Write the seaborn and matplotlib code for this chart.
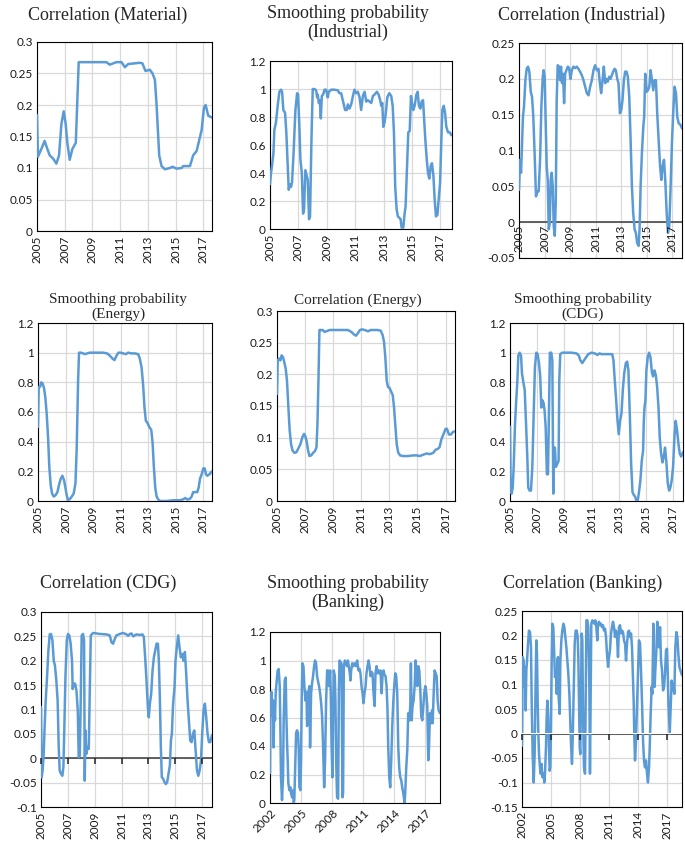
import numpy as np
import matplotlib
matplotlib.use("Agg")
import matplotlib.pyplot as plt
import seaborn as sns
from matplotlib.ticker import MultipleLocator, FuncFormatter

sns.set_theme(style="white")
plt.rcParams['font.family'] = ['Lato', 'DejaVu Sans']
plt.rcParams['xtick.bottom'] = True

BLUE = '#5b9bd5'
W, H = 685, 844

# ---- data (decimal years / values) ----
mat_x = [2005.00, 2005.07, 2005.31, 2005.55, 2005.75, 2005.92, 2006.16, 2006.40, 2006.59, 2006.76,
         2006.93, 2007.07, 2007.19, 2007.36, 2007.55, 2007.80, 2008.01, 2010.01, 2010.25, 2010.73,
         2011.10, 2011.34, 2011.58, 2012.42, 2012.61, 2012.83, 2013.14, 2013.34, 2013.51, 2013.63,
         2013.82, 2013.99, 2014.23, 2014.59, 2014.78, 2015.07, 2015.43, 2015.55, 2016.04, 2016.27,
         2016.52, 2016.88, 2017.05, 2017.17, 2017.36, 2017.63]
mat_y = [0.184, 0.118, 0.13, 0.143, 0.13, 0.12, 0.115, 0.107, 0.12, 0.17,
         0.19, 0.17, 0.14, 0.113, 0.13, 0.14, 0.268, 0.268, 0.264, 0.268,
         0.268, 0.26, 0.265, 0.267, 0.266, 0.254, 0.256, 0.25, 0.24, 0.2,
         0.12, 0.103, 0.098, 0.1, 0.102, 0.099, 0.1, 0.103, 0.103, 0.12,
         0.127, 0.16, 0.196, 0.2, 0.183, 0.18]

ind_sp_x = [2005.00, 2005.07, 2005.14, 2005.24, 2005.31, 2005.42, 2005.54, 2005.66, 2005.78, 2005.85,
            2005.94, 2006.06, 2006.15, 2006.25, 2006.32, 2006.41, 2006.48, 2006.55, 2006.65, 2006.79,
            2006.91, 2006.98, 2007.07, 2007.14, 2007.24, 2007.33, 2007.40, 2007.49, 2007.59, 2007.66,
            2007.75, 2007.82, 2007.92, 2008.01, 2008.13, 2008.25, 2008.32, 2008.36, 2008.44, 2008.51,
            2008.58, 2008.65, 2008.74, 2008.84, 2008.95, 2009.07, 2009.14, 2009.31, 2009.54, 2009.78,
            2009.89, 2010.01, 2010.13, 2010.29, 2010.41, 2010.48, 2010.60, 2010.72, 2010.84, 2010.95,
            2011.07, 2011.19, 2011.31, 2011.42, 2011.54, 2011.66, 2011.78, 2011.89, 2012.01, 2012.13,
            2012.25, 2012.36, 2012.53, 2012.65, 2012.76, 2012.84, 2012.91, 2012.98, 2013.07, 2013.16,
            2013.26, 2013.40, 2013.54, 2013.64, 2013.73, 2013.82, 2013.92, 2014.01, 2014.11, 2014.20,
            2014.27, 2014.39, 2014.48, 2014.55, 2014.65, 2014.74, 2014.84, 2014.93, 2015.00, 2015.09,
            2015.19, 2015.31, 2015.40, 2015.49, 2015.59, 2015.68, 2015.78, 2015.85, 2015.94, 2016.04,
            2016.13, 2016.22, 2016.32, 2016.41, 2016.51, 2016.60, 2016.69, 2016.79, 2016.88, 2016.98,
            2017.07, 2017.14, 2017.24, 2017.33, 2017.42, 2017.54, 2017.66, 2017.78]
ind_sp_y = [0.32, 0.40, 0.45, 0.54, 0.71, 0.76, 0.88, 0.98, 0.995, 0.98,
            0.85, 0.83, 0.69, 0.45, 0.28, 0.32, 0.30, 0.33, 0.52, 0.85,
            0.97, 0.96, 0.73, 0.50, 0.40, 0.11, 0.14, 0.42, 0.38, 0.35,
            0.07, 0.09, 0.64, 1.0, 1.0, 0.99, 0.94, 0.96, 0.90, 0.92,
            0.79, 0.95, 0.96, 0.995, 0.995, 0.94, 0.98, 0.995, 0.995, 0.99,
            0.97, 0.97, 0.92, 0.85, 0.85, 0.89, 0.86, 0.89, 0.95, 0.995,
            0.97, 0.98, 0.94, 0.85, 0.95, 0.98, 0.91, 0.92, 0.91, 0.90,
            0.95, 0.96, 0.98, 0.96, 0.92, 0.88, 0.90, 0.73, 0.76, 0.83,
            0.94, 0.97, 0.95, 0.88, 0.69, 0.30, 0.14, 0.09, 0.08, 0.07,
            0.01, 0.01, 0.11, 0.16, 0.45, 0.69, 0.70, 0.95, 0.90, 0.85,
            0.88, 0.96, 0.98, 0.88, 0.86, 0.91, 0.92, 0.80, 0.64, 0.50,
            0.40, 0.36, 0.45, 0.47, 0.38, 0.21, 0.09, 0.10, 0.21, 0.33,
            0.64, 0.85, 0.88, 0.83, 0.73, 0.69, 0.69, 0.67]

ind_c_x = [2005.00, 2005.08, 2005.16, 2005.24, 2005.31, 2005.39, 2005.50, 2005.60, 2005.71, 2005.81,
           2005.92, 2006.02, 2006.12, 2006.23, 2006.33, 2006.44, 2006.54, 2006.65, 2006.75, 2006.86,
           2006.93, 2007.01, 2007.09, 2007.17, 2007.25, 2007.33, 2007.41, 2007.48, 2007.56, 2007.64,
           2007.72, 2007.80, 2007.88, 2007.95, 2008.03, 2008.14, 2008.22, 2008.29, 2008.37, 2008.45,
           2008.53, 2008.61, 2008.71, 2008.82, 2008.92, 2009.03, 2009.13, 2009.26, 2009.39, 2009.52,
           2009.65, 2009.78, 2009.92, 2010.05, 2010.18, 2010.31, 2010.44, 2010.57, 2010.70, 2010.83,
           2010.96, 2011.09, 2011.22, 2011.33, 2011.43, 2011.54, 2011.64, 2011.75, 2011.85, 2011.95,
           2012.06, 2012.16, 2012.27, 2012.37, 2012.48, 2012.58, 2012.69, 2012.79, 2012.90, 2013.00,
           2013.10, 2013.21, 2013.31, 2013.42, 2013.52, 2013.63, 2013.73, 2013.84, 2013.94, 2014.05,
           2014.15, 2014.25, 2014.36, 2014.44, 2014.52, 2014.62, 2014.73, 2014.80, 2014.88, 2014.99,
           2015.09, 2015.20, 2015.30, 2015.41, 2015.51, 2015.61, 2015.72, 2015.82, 2015.93, 2016.03,
           2016.14, 2016.24, 2016.35, 2016.45, 2016.56, 2016.66, 2016.76, 2016.87, 2016.97, 2017.08,
           2017.18, 2017.29, 2017.39, 2017.50, 2017.63, 2017.76]
ind_c_y = [0.045, 0.087, 0.069, 0.11, 0.147, 0.161, 0.198, 0.214, 0.217, 0.21,
           0.182, 0.175, 0.147, 0.092, 0.036, 0.043, 0.043, 0.087, 0.161, 0.203,
           0.212, 0.203, 0.138, 0.078, 0.059, -0.010, -0.001, 0.059, 0.069, 0.05,
           -0.006, -0.019, 0.031, 0.170, 0.219, 0.217, 0.198, 0.217, 0.194, 0.207,
           0.166, 0.207, 0.212, 0.217, 0.215, 0.2, 0.212, 0.217, 0.215, 0.217,
           0.214, 0.21, 0.205, 0.198, 0.189, 0.18, 0.177, 0.189, 0.198, 0.212,
           0.219, 0.212, 0.214, 0.194, 0.18, 0.198, 0.217, 0.194, 0.2, 0.196,
           0.203, 0.2, 0.205, 0.21, 0.214, 0.212, 0.2, 0.194, 0.152, 0.156,
           0.17, 0.198, 0.21, 0.21, 0.203, 0.175, 0.119, 0.05, 0.013, -0.01,
           -0.015, -0.029, -0.033, -0.01, 0.05, 0.096, 0.133, 0.147, 0.207, 0.182,
           0.184, 0.189, 0.212, 0.198, 0.184, 0.198, 0.198, 0.152, 0.115, 0.082,
           0.059, 0.078, 0.087, 0.059, 0.013, -0.015, -0.006, 0.05, 0.11, 0.156,
           0.189, 0.18, 0.147, 0.138, 0.136, 0.131]

en_sp_x = [2005.00, 2005.05, 2005.15, 2005.24, 2005.34, 2005.44, 2005.53, 2005.63, 2005.73, 2005.82,
           2005.92, 2006.02, 2006.14, 2006.28, 2006.41, 2006.53, 2006.65, 2006.77, 2006.89, 2006.99,
           2007.08, 2007.18, 2007.33, 2007.45, 2007.59, 2007.72, 2007.81, 2007.91, 2007.98, 2008.13,
           2008.27, 2008.42, 2008.56, 2008.76, 2009.24, 2009.73, 2010.02, 2010.21, 2010.41, 2010.55,
           2010.70, 2010.84, 2011.01, 2011.18, 2011.38, 2011.55, 2011.79, 2012.03, 2012.27, 2012.39,
           2012.52, 2012.64, 2012.73, 2012.83, 2012.93, 2013.07, 2013.22, 2013.32, 2013.41, 2013.51,
           2013.61, 2013.73, 2013.85, 2014.33, 2014.82, 2015.30, 2015.50, 2015.69, 2015.84, 2016.03,
           2016.15, 2016.27, 2016.39, 2016.56, 2016.66, 2016.76, 2016.88, 2017.00, 2017.10, 2017.19,
           2017.29, 2017.44, 2017.63]
en_sp_y = [0.50, 0.77, 0.77, 0.80, 0.79, 0.76, 0.70, 0.59, 0.43, 0.23,
           0.11, 0.05, 0.03, 0.04, 0.06, 0.11, 0.15, 0.17, 0.14, 0.09,
           0.04, 0.005, 0.015, 0.03, 0.05, 0.12, 0.36, 0.81, 1.0, 1.0,
           0.995, 0.99, 0.995, 1.0, 1.0, 1.0, 0.995, 0.98, 0.96, 0.95,
           0.98, 1.0, 1.0, 0.995, 0.99, 1.0, 0.995, 0.995, 0.99, 0.96,
           0.90, 0.77, 0.63, 0.54, 0.53, 0.50, 0.48, 0.39, 0.23, 0.09,
           0.03, 0.01, 0.0, 0.0, 0.005, 0.005, 0.01, 0.02, 0.01, 0.015,
           0.03, 0.06, 0.06, 0.06, 0.09, 0.15, 0.18, 0.22, 0.22, 0.18,
           0.17, 0.18, 0.20]

en_c_x = [2005.00, 2005.05, 2005.14, 2005.24, 2005.33, 2005.43, 2005.52, 2005.62, 2005.71, 2005.81,
          2005.90, 2006.00, 2006.10, 2006.24, 2006.38, 2006.52, 2006.67, 2006.81, 2006.93, 2007.02,
          2007.12, 2007.21, 2007.31, 2007.43, 2007.57, 2007.71, 2007.81, 2007.88, 2007.95, 2008.02,
          2008.14, 2008.26, 2008.38, 2008.52, 2008.74, 2009.10, 2009.57, 2010.05, 2010.29, 2010.48,
          2010.62, 2010.76, 2010.90, 2011.05, 2011.24, 2011.48, 2011.67, 2011.86, 2012.14, 2012.38,
          2012.52, 2012.62, 2012.71, 2012.81, 2012.90, 2013.00, 2013.10, 2013.24, 2013.33, 2013.43,
          2013.52, 2013.62, 2013.76, 2013.95, 2014.33, 2014.69, 2014.93, 2015.17, 2015.40, 2015.64,
          2015.88, 2016.12, 2016.29, 2016.43, 2016.57, 2016.71, 2016.86, 2017.00, 2017.10, 2017.24,
          2017.38, 2017.52, 2017.67]
en_c_y = [0.169, 0.222, 0.225, 0.222, 0.23, 0.227, 0.219, 0.209, 0.19, 0.148,
          0.112, 0.09, 0.08, 0.076, 0.077, 0.083, 0.09, 0.101, 0.106, 0.102,
          0.093, 0.08, 0.071, 0.072, 0.076, 0.079, 0.085, 0.122, 0.19, 0.27,
          0.27, 0.27, 0.267, 0.268, 0.27, 0.27, 0.27, 0.27, 0.267, 0.263,
          0.261, 0.265, 0.27, 0.271, 0.27, 0.268, 0.27, 0.27, 0.27, 0.269,
          0.262, 0.251, 0.227, 0.19, 0.18, 0.179, 0.174, 0.167, 0.148, 0.117,
          0.09, 0.077, 0.072, 0.071, 0.071, 0.072, 0.072, 0.071, 0.073, 0.075,
          0.074, 0.076, 0.081, 0.082, 0.085, 0.098, 0.106, 0.114, 0.114, 0.105,
          0.105, 0.109, 0.11]

cdg_sp_x = [2005.00, 2005.05, 2005.12, 2005.20, 2005.27, 2005.37, 2005.46, 2005.54, 2005.61, 2005.71,
            2005.81, 2005.88, 2005.98, 2006.08, 2006.17, 2006.27, 2006.34, 2006.44, 2006.54, 2006.64,
            2006.74, 2006.83, 2006.93, 2007.03, 2007.13, 2007.22, 2007.30, 2007.37, 2007.47, 2007.54,
            2007.62, 2007.71, 2007.79, 2007.86, 2007.93, 2008.03, 2008.11, 2008.18, 2008.23, 2008.30,
            2008.37, 2008.47, 2008.57, 2008.62, 2008.69, 2008.84, 2009.28, 2009.52, 2009.89, 2010.06,
            2010.16, 2010.31, 2010.45, 2010.60, 2010.75, 2010.99, 2011.23, 2011.43, 2011.58, 2011.72,
            2012.09, 2012.33, 2012.51, 2012.60, 2012.70, 2012.80, 2012.90, 2012.99, 2013.09, 2013.19,
            2013.29, 2013.39, 2013.51, 2013.61, 2013.70, 2013.80, 2013.90, 2014.00, 2014.10, 2014.19,
            2014.29, 2014.39, 2014.49, 2014.58, 2014.68, 2014.78, 2014.83, 2014.88, 2014.95, 2015.02,
            2015.12, 2015.22, 2015.32, 2015.42, 2015.51, 2015.61, 2015.71, 2015.81, 2015.91, 2016.00,
            2016.10, 2016.20, 2016.30, 2016.39, 2016.49, 2016.59, 2016.69, 2016.78, 2016.88, 2016.98,
            2017.08, 2017.17, 2017.27, 2017.37, 2017.47, 2017.57, 2017.71]
cdg_sp_y = [0.50, 0.09, 0.05, 0.09, 0.23, 0.52, 0.68, 0.81, 0.98, 1.0,
            0.98, 0.86, 0.80, 0.75, 0.54, 0.30, 0.09, 0.07, 0.07, 0.23,
            0.59, 0.90, 1.0, 0.99, 0.93, 0.84, 0.63, 0.68, 0.66, 0.61,
            0.50, 0.18, 0.18, 0.59, 1.0, 1.0, 0.95, 0.05, 0.36, 0.36,
            0.23, 0.25, 0.27, 0.81, 0.99, 1.0, 1.0, 1.0, 0.995, 0.98,
            0.95, 0.93, 0.95, 0.97, 0.99, 1.0, 0.995, 0.985, 0.995, 0.99,
            0.99, 0.99, 0.99, 0.95, 0.81, 0.68, 0.54, 0.45, 0.54, 0.59,
            0.75, 0.86, 0.93, 0.94, 0.88, 0.59, 0.25, 0.06, 0.04, 0.03,
            0.0, 0.005, 0.07, 0.14, 0.27, 0.34, 0.54, 0.63, 0.68, 0.88,
            0.97, 1.0, 0.97, 0.87, 0.84, 0.88, 0.85, 0.77, 0.63, 0.43,
            0.32, 0.26, 0.30, 0.36, 0.26, 0.12, 0.07, 0.09, 0.14, 0.23,
            0.43, 0.54, 0.48, 0.39, 0.32, 0.30, 0.33]

cdg_c_x = [2005.00, 2005.05, 2005.12, 2005.20, 2005.27, 2005.35, 2005.45, 2005.55, 2005.65, 2005.75,
           2005.85, 2005.95, 2006.04, 2006.14, 2006.24, 2006.32, 2006.39, 2006.49, 2006.59, 2006.67,
           2006.74, 2006.82, 2006.92, 2007.01, 2007.11, 2007.21, 2007.31, 2007.36, 2007.44, 2007.54,
           2007.64, 2007.74, 2007.81, 2007.89, 2007.96, 2008.03, 2008.13, 2008.21, 2008.26, 2008.31,
           2008.38, 2008.46, 2008.56, 2008.63, 2008.71, 2008.88, 2009.38, 2009.88, 2010.12, 2010.25,
           2010.37, 2010.50, 2010.62, 2010.87, 2011.12, 2011.37, 2011.49, 2011.62, 2011.74, 2011.87,
           2012.11, 2012.36, 2012.56, 2012.66, 2012.76, 2012.86, 2012.96, 2013.03, 2013.11, 2013.21,
           2013.31, 2013.41, 2013.51, 2013.61, 2013.71, 2013.78, 2013.86, 2013.93, 2014.00, 2014.10,
           2014.20, 2014.30, 2014.40, 2014.50, 2014.60, 2014.68, 2014.75, 2014.83, 2014.88, 2014.95,
           2015.02, 2015.12, 2015.22, 2015.32, 2015.42, 2015.52, 2015.62, 2015.72, 2015.82, 2015.92,
           2016.02, 2016.12, 2016.22, 2016.32, 2016.42, 2016.52, 2016.62, 2016.72, 2016.82, 2016.92,
           2017.01, 2017.11, 2017.21, 2017.31, 2017.41, 2017.51, 2017.61, 2017.74]
cdg_c_y = [0.105, -0.039, -0.025, 0.009, 0.064, 0.118, 0.166, 0.221, 0.254, 0.255,
           0.242, 0.2, 0.19, 0.16, 0.118, 0.023, -0.025, -0.032, -0.036, -0.018,
           0.064, 0.166, 0.242, 0.255, 0.252, 0.235, 0.2, 0.142, 0.153, 0.153,
           0.139, 0.098, 0.002, 0.005, 0.118, 0.252, 0.255, 0.242, -0.046, 0.057,
           0.009, 0.023, 0.019, 0.132, 0.252, 0.257, 0.255, 0.254, 0.252, 0.238,
           0.235, 0.245, 0.252, 0.255, 0.257, 0.254, 0.251, 0.255, 0.256, 0.25,
           0.254, 0.253, 0.254, 0.249, 0.207, 0.16, 0.105, 0.084, 0.112, 0.132,
           0.18, 0.207, 0.221, 0.235, 0.235, 0.2, 0.118, 0.023, -0.039, -0.042,
           -0.049, -0.053, -0.049, -0.032, -0.015, 0.036, 0.05, 0.105, 0.125, 0.146,
           0.2, 0.228, 0.252, 0.228, 0.207, 0.214, 0.2, 0.218, 0.173, 0.118,
           0.077, 0.036, 0.033, 0.05, 0.057, 0.016, -0.025, -0.036, -0.025, -0.005,
           0.05, 0.098, 0.112, 0.084, 0.05, 0.033, 0.033, 0.047]

bank_sp_x = [2002.00, 2002.06, 2002.16, 2002.23, 2002.29, 2002.35, 2002.42, 2002.48, 2002.55, 2002.65,
             2002.74, 2002.84, 2002.94, 2003.00, 2003.06, 2003.16, 2003.26, 2003.32, 2003.42, 2003.52,
             2003.58, 2003.65, 2003.71, 2003.77, 2003.87, 2003.97, 2004.03, 2004.13, 2004.23, 2004.29,
             2004.35, 2004.45, 2004.52, 2004.61, 2004.71, 2004.77, 2004.84, 2004.94, 2005.00, 2005.06,
             2005.13, 2005.23, 2005.32, 2005.42, 2005.52, 2005.58, 2005.68, 2005.74, 2005.81, 2005.87,
             2005.97, 2006.06, 2006.16, 2006.26, 2006.35, 2006.45, 2006.55, 2006.65, 2006.74, 2006.84,
             2006.94, 2007.03, 2007.13, 2007.23, 2007.32, 2007.42, 2007.52, 2007.61, 2007.71, 2007.81,
             2007.87, 2007.94, 2008.03, 2008.10, 2008.16, 2008.26, 2008.32, 2008.39, 2008.48, 2008.58,
             2008.65, 2008.71, 2008.81, 2008.90, 2009.00, 2009.06, 2009.13, 2009.23, 2009.32, 2009.42,
             2009.52, 2009.61, 2009.71, 2009.77, 2009.84, 2009.94, 2010.03, 2010.16, 2010.29, 2010.42,
             2010.55, 2010.65, 2010.74, 2010.84, 2010.94, 2011.03, 2011.13, 2011.23, 2011.32, 2011.42,
             2011.52, 2011.61, 2011.71, 2011.81, 2011.90, 2012.00, 2012.10, 2012.19, 2012.29, 2012.39,
             2012.48, 2012.58, 2012.68, 2012.77, 2012.87, 2012.97, 2013.06, 2013.16, 2013.26, 2013.35,
             2013.42, 2013.52, 2013.61, 2013.71, 2013.81, 2013.90, 2014.00, 2014.10, 2014.19, 2014.29,
             2014.39, 2014.48, 2014.58, 2014.68, 2014.77, 2014.87, 2015.00, 2015.06, 2015.16, 2015.26,
             2015.35, 2015.45, 2015.55, 2015.61, 2015.68, 2015.77, 2015.87, 2015.97, 2016.06, 2016.16,
             2016.23, 2016.32, 2016.42, 2016.52, 2016.61, 2016.71, 2016.81, 2016.90, 2017.00, 2017.10,
             2017.19, 2017.29, 2017.35, 2017.45, 2017.55, 2017.65, 2017.71, 2017.81, 2017.90, 2018.00,
             2018.10, 2018.19, 2018.29, 2018.42]
bank_sp_y = [0.21, 0.77, 0.78, 0.61, 0.72, 0.39, 0.70, 0.58, 0.77, 0.86,
             0.93, 0.94, 0.82, 0.54, 0.18, 0.02, 0.18, 0.58, 0.86, 0.88,
             0.61, 0.42, 0.30, 0.14, 0.09, 0.11, 0.07, 0.04, 0.09, 0.0,
             0.02, 0.30, 0.49, 0.51, 0.49, 0.39, 0.11, 0.09, 0.30, 0.72,
             0.98, 0.96, 0.82, 0.72, 0.78, 0.54, 0.61, 0.79, 0.82, 0.39,
             0.77, 0.84, 0.89, 0.96, 1.0, 0.98, 0.89, 0.85, 0.82, 0.77,
             0.70, 0.61, 0.39, 0.11, 0.30, 0.72, 0.93, 0.93, 0.82, 0.93,
             0.77, 0.42, 0.18, 0.65, 0.93, 0.89, 0.72, 0.30, 0.04, 0.03,
             0.77, 1.0, 0.99, 0.98, 0.04, 0.07, 0.96, 1.0, 0.98, 0.96,
             1.0, 0.96, 0.91, 0.86, 0.93, 0.98, 0.96, 0.98, 0.96, 1.0,
             0.93, 0.94, 0.91, 0.82, 0.77, 0.70, 0.77, 0.82, 0.91, 0.96,
             1.0, 0.96, 0.89, 0.92, 0.91, 0.77, 0.68, 0.91, 0.96, 0.91,
             0.93, 0.91, 0.93, 0.77, 0.89, 0.93, 0.90, 0.89, 0.82, 0.65,
             0.39, 0.18, 0.11, 0.30, 0.54, 0.70, 0.82, 0.91, 0.89, 0.77,
             0.39, 0.25, 0.18, 0.16, 0.11, 0.07, 0.0, 0.07, 0.25, 0.37,
             0.63, 0.58, 0.68, 0.98, 0.58, 0.68, 0.72, 0.82, 1.0, 0.84,
             0.82, 0.96, 0.93, 0.79, 0.61, 0.58, 0.68, 0.77, 0.82, 0.77,
             0.68, 0.30, 0.37, 0.63, 0.56, 0.65, 0.56, 0.77, 0.93, 0.91,
             0.89, 0.72, 0.65, 0.63]

bank_c_x = [2002.00, 2002.07, 2002.17, 2002.24, 2002.31, 2002.38, 2002.45, 2002.52, 2002.62, 2002.72,
            2002.83, 2002.93, 2003.00, 2003.10, 2003.21, 2003.31, 2003.38, 2003.48, 2003.55, 2003.62,
            2003.69, 2003.76, 2003.83, 2003.93, 2004.03, 2004.10, 2004.21, 2004.31, 2004.38, 2004.48,
            2004.55, 2004.62, 2004.72, 2004.79, 2004.86, 2004.93, 2005.00, 2005.07, 2005.14, 2005.24,
            2005.34, 2005.41, 2005.52, 2005.59, 2005.66, 2005.72, 2005.79, 2005.90, 2005.97, 2006.07,
            2006.17, 2006.28, 2006.38, 2006.48, 2006.59, 2006.69, 2006.79, 2006.90, 2006.97, 2007.07,
            2007.17, 2007.24, 2007.34, 2007.45, 2007.55, 2007.66, 2007.76, 2007.83, 2007.90, 2007.97,
            2008.03, 2008.10, 2008.17, 2008.24, 2008.31, 2008.41, 2008.52, 2008.59, 2008.66, 2008.76,
            2008.86, 2008.97, 2009.03, 2009.10, 2009.17, 2009.28, 2009.38, 2009.48, 2009.59, 2009.69,
            2009.79, 2009.86, 2009.97, 2010.07, 2010.17, 2010.28, 2010.38, 2010.48, 2010.59, 2010.69,
            2010.79, 2010.90, 2011.00, 2011.10, 2011.21, 2011.31, 2011.41, 2011.52, 2011.62, 2011.72,
            2011.83, 2011.93, 2012.03, 2012.14, 2012.24, 2012.34, 2012.45, 2012.55, 2012.66, 2012.76,
            2012.86, 2012.97, 2013.07, 2013.17, 2013.28, 2013.38, 2013.45, 2013.55, 2013.62, 2013.69,
            2013.76, 2013.83, 2013.93, 2014.03, 2014.10, 2014.21, 2014.31, 2014.41, 2014.52, 2014.62,
            2014.72, 2014.83, 2014.93, 2015.03, 2015.14, 2015.21, 2015.31, 2015.41, 2015.48, 2015.59,
            2015.66, 2015.72, 2015.79, 2015.90, 2016.00, 2016.07, 2016.17, 2016.28, 2016.38, 2016.48,
            2016.59, 2016.69, 2016.79, 2016.90, 2017.00, 2017.07, 2017.14, 2017.21, 2017.28, 2017.38,
            2017.48, 2017.59, 2017.66, 2017.76, 2017.86, 2017.97, 2018.07, 2018.17, 2018.28, 2018.38,
            2018.55]
bank_c_y = [-0.025, 0.156, 0.149, 0.095, 0.136, 0.047, 0.129, 0.149, 0.183, 0.21,
            0.207, 0.176, 0.067, -0.042, -0.1, -0.042, 0.067, 0.19, 0.163, 0.067,
            0.0, -0.042, -0.062, -0.082, -0.062, -0.089, -0.082, -0.1, -0.082, -0.028,
            0.033, 0.067, 0.033, -0.028, -0.076, -0.069, 0.013, 0.149, 0.224, 0.217,
            0.156, 0.115, 0.129, 0.081, 0.149, 0.156, 0.074, 0.040, 0.149, 0.19,
            0.21, 0.224, 0.217, 0.197, 0.176, 0.149, 0.122, 0.081, 0.04, -0.021,
            -0.062, -0.014, 0.081, 0.183, 0.21, 0.21, 0.197, 0.149, 0.067, -0.028,
            -0.042, 0.067, 0.204, 0.19, 0.047, -0.069, -0.082, 0.067, 0.231, 0.231,
            0.217, 0.088, -0.082, 0.081, 0.224, 0.231, 0.228, 0.224, 0.231, 0.217,
            0.19, 0.224, 0.228, 0.221, 0.224, 0.217, 0.221, 0.21, 0.214, 0.197,
            0.163, 0.136, 0.156, 0.17, 0.204, 0.217, 0.228, 0.217, 0.197, 0.21,
            0.197, 0.156, 0.217, 0.221, 0.204, 0.21, 0.207, 0.19, 0.183, 0.149,
            0.183, 0.207, 0.21, 0.197, 0.204, 0.176, 0.129, 0.067, -0.007, -0.055,
            -0.028, 0.013, 0.081, 0.149, 0.19, 0.183, 0.129, 0.067, -0.014, -0.055,
            -0.069, -0.055, -0.082, -0.1, -0.069, -0.028, 0.04, 0.095, 0.081, 0.224,
            0.115, 0.095, 0.129, 0.17, 0.228, 0.183, 0.176, 0.217, 0.149, 0.129,
            0.088, 0.095, 0.122, 0.17, 0.173, 0.129, 0.067, 0.033, 0.0, 0.054,
            0.108, 0.088, 0.101, 0.081, 0.176, 0.207, 0.197, 0.163, 0.136, 0.129,
            0.119]


def ytick_fmt(v, pos):
    s = f"{v:.2f}".rstrip('0').rstrip('.')
    return '0' if s in ('-0', '') else s


fig = plt.figure(figsize=(W / 100, H / 100), dpi=100)


def panel(box, xs, ys, xlim, ylim, ystep, first, step, rot=90, zero='none'):
    l, t, r, b = box
    ax = fig.add_axes([l / W, 1 - b / H, (r - l) / W, (b - t) / H])
    ax.set_xlim(*xlim)
    ax.set_ylim(*ylim)
    ticks = list(range(first, int(xlim[1]) + 1, step))
    labels = [str(t) for t in ticks]
    if zero != 'none':
        # horizontal axis crossing at zero (dark line, behind the series)
        ax.axhline(0, color='#3a3a3a', linewidth=1.1, zorder=1.5)
    sns.lineplot(x=xs, y=ys, ax=ax, color=BLUE, linewidth=1.8, estimator=None, sort=False, zorder=3)
    ax.set_xlim(*xlim)
    ax.set_ylim(*ylim)
    ax.yaxis.set_major_locator(MultipleLocator(ystep))
    ax.yaxis.set_major_formatter(FuncFormatter(ytick_fmt))
    ax.set_xticks(ticks)
    if rot == 45:
        ax.set_xticklabels(labels, rotation=45, ha='right', rotation_mode='anchor')
    else:
        ax.set_xticklabels(labels, rotation=rot)
    ax.grid(True, color='#d9d9d9', linewidth=0.9)
    ax.set_axisbelow(True)
    for s in ax.spines.values():
        s.set_visible(True)
        s.set_color('black')
        s.set_linewidth(0.8)
    ax.tick_params(length=0, labelsize=8.5, pad=3, colors='#1a1a1a')
    ax.set_xlabel('')
    ax.set_ylabel('')
    if zero != 'none':
        pos = (0 - ylim[0]) / (ylim[1] - ylim[0])
        sec = ax.secondary_xaxis(pos)
        sec.set_xticks(ticks)
        for s in sec.spines.values():
            s.set_visible(False)
        sec.set_zorder(5)
        if zero == 'labels':
            sec.set_xticklabels(labels, rotation=90)
            sec.tick_params(axis='x', bottom=False, top=False, labelbottom=True, labeltop=False,
                            length=0, labelsize=8.5, pad=2, colors='#1a1a1a')
            ax.tick_params(axis='x', labelbottom=False)
        else:
            sec.set_xticklabels([])
            sec.xaxis.set_ticks_position('bottom')
            sec.tick_params(axis='x', which='major', bottom=True, top=False,
                            labelbottom=False, labeltop=False,
                            length=4, width=1.1, direction='out', color='#222222')
    return ax


def title(cx, cy, text, size):
    fig.text(cx / W, 1 - cy / H, text, ha='center', va='center',
             family=['Liberation Serif'], fontsize=size, linespacing=1.15)


panel((37, 42, 212, 231), mat_x, mat_y, (2005, 2017.63), (0, 0.3), 0.05, 2005, 2)
panel((270, 61, 452, 229), ind_sp_x, ind_sp_y, (2005, 2017.82), (0, 1.2), 0.2, 2005, 2)
panel((519, 43, 682, 258), ind_c_x, ind_c_y, (2005, 2017.76), (-0.05, 0.25), 0.05, 2005, 2, zero='labels')
panel((38, 323, 212, 501), en_sp_x, en_sp_y, (2005, 2017.63), (0, 1.2), 0.2, 2005, 2)
panel((277, 311, 455, 501), en_c_x, en_c_y, (2005, 2017.67), (0, 0.3), 0.05, 2005, 2)
panel((510, 323, 683, 501), cdg_sp_x, cdg_sp_y, (2005, 2017.71), (0, 1.2), 0.2, 2005, 2)
panel((41, 612, 212, 807), cdg_c_x, cdg_c_y, (2005, 2017.74), (-0.1, 0.3), 0.05, 2005, 2, zero='ticks')
panel((270, 632, 440, 803), bank_sp_x, bank_sp_y, (2002, 2018.42), (0, 1.2), 0.2, 2002, 3, rot=45)
panel((522, 611, 682, 807), bank_c_x, bank_c_y, (2002, 2018.55), (-0.15, 0.25), 0.05, 2002, 3, zero='ticks')

title(108, 15, "Correlation (Material)", 13)
title(348, 23, "Smoothing probability\n(Industrial)", 13)
title(582, 15, "Correlation (Industrial)", 13)
title(118, 307, "Smoothing probability\n(Energy)", 11)
title(358, 300, "Correlation (Energy)", 11)
title(583, 307, "Smoothing probability\n(CDG)", 11)
title(108, 583, "Correlation (CDG)", 13)
title(348, 593, "Smoothing probability\n(Banking)", 13)
title(583, 583, "Correlation (Banking)", 13)

fig.savefig("out.png", dpi=100)
